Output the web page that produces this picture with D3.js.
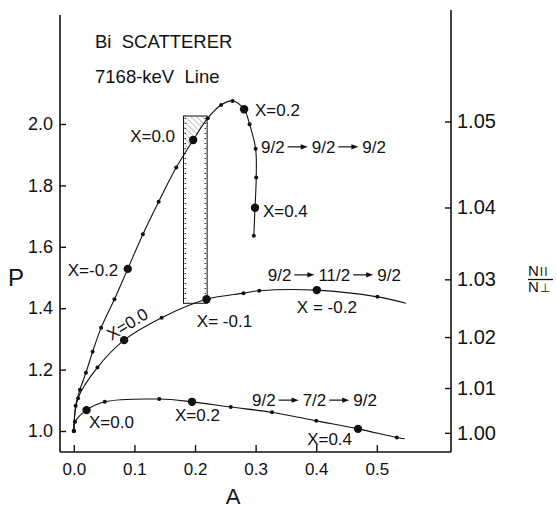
<!DOCTYPE html>
<html lang="en">
<head>
<meta charset="UTF-8">
<title>Bi scatterer, 7168-keV line</title>
<script src="https://cdn.jsdelivr.net/npm/d3@7"></script>
<style>
  body { margin: 0; background: #fff; }
  svg text { font-family: "Liberation Sans", Arial, sans-serif; fill: #111; }
  .curve { fill: none; stroke: #111; stroke-width: 1.1px; }
  .frame { stroke: #111; stroke-width: 1.6px; }
  .tick line { stroke: #111; stroke-width: 1.4px; }
</style>
</head>
<body>
<svg id="chart" width="557" height="510"></svg>
<script>
// 9/2 -> 9/2 -> 9/2 cascade (steep curve)
const steepA = [0.000, 0.003, 0.010, 0.020, 0.031, 0.045, 0.067, 0.089, 0.114, 0.140, 0.169,
                0.197, 0.221, 0.243, 0.262, 0.281, 0.290, 0.300, 0.301, 0.299, 0.297];
const steepP = [1.000, 1.082, 1.134, 1.190, 1.258, 1.336, 1.429, 1.528, 1.641, 1.747, 1.858,
                1.948, 2.019, 2.062, 2.075, 2.048, 1.999, 1.919, 1.826, 1.727, 1.636];
const steepBig = [7, 11, 15, 19];

// 9/2 -> 11/2 -> 9/2 cascade
const middleA = [0.000, 0.007, 0.039, 0.083, 0.145, 0.219, 0.280, 0.306, 0.401, 0.501, 0.548];
const middleP = [1.000, 1.107, 1.207, 1.296, 1.369, 1.429, 1.449, 1.457, 1.459, 1.437, 1.416];
const middleBig = [3, 5, 8];
const middleBare = [10];

// 9/2 -> 7/2 -> 9/2 cascade
const lowerA = [0.000, 0.002, 0.021, 0.051, 0.141, 0.195, 0.259, 0.327, 0.400, 0.469, 0.533, 0.546];
const lowerP = [1.000, 1.030, 1.068, 1.095, 1.104, 1.095, 1.078, 1.061, 1.033, 1.007, 0.979, 0.975];
const lowerBig = [2, 5, 9];
const lowerBare = [11];

// axes
const aTicks = [0.0, 0.1, 0.2, 0.3, 0.4, 0.5];
const pTicks = [1.0, 1.2, 1.4, 1.6, 1.8, 2.0];
const ratioTicks = [1.00, 1.01, 1.02, 1.03, 1.04, 1.05];
const ratioAtP = [0.994, 1.140, 1.306, 1.494, 1.728, 2.008];   // P value facing each ratio tick

// measured window (dotted box)
const boxA = [0.181, 0.220];
const boxP = [1.416, 2.026];

// labels: text, A, P (baseline start), rotation
const pointLabels = [
  ["X=0.0", 0.093, 1.941, 0],
  ["X=0.2", 0.299, 2.026, 0],
  ["X=0.4", 0.312, 1.697, 0],
  ["X=-0.2", -0.010, 1.505, 0],
  ["X=0.0", 0.062, 1.293, -32],
  ["X= -0.1", 0.203, 1.339, 0],
  ["X = -0.2", 0.368, 1.384, 0],
  ["X=0.0", 0.025, 1.010, 0],
  ["X=0.2", 0.167, 1.033, 0],
  ["X=0.4", 0.385, 0.954, 0]
];
const cascades = [
  [["9/2", "9/2", "9/2"], 0.309, 1.906],
  [["9/2", "11/2", "9/2"], 0.320, 1.489],
  [["9/2", "7/2", "9/2"], 0.294, 1.081]
];

const svg = d3.select("#chart");
const x = d3.scaleLinear().domain([-0.0228, 0.6224]).range([60, 451]);
const y = d3.scaleLinear().domain([0.9316, 2.355]).range([452, 15]);
const y2 = d3.scaleLinear().domain(ratioTicks).range(ratioAtP.map(y));

// hatch pattern for the corner of the box
const defs = svg.append("defs");
defs.append("pattern")
  .attr("id", "hatch").attr("patternUnits", "userSpaceOnUse")
  .attr("width", 4).attr("height", 4)
  .attr("patternTransform", "rotate(-45)")
  .append("line").attr("x1", 0).attr("y1", 0).attr("x2", 0).attr("y2", 4)
  .attr("stroke", "#555").attr("stroke-width", 0.7);
defs.append("clipPath").attr("id", "boxclip")
  .append("rect")
  .attr("x", x(boxA[0])).attr("y", y(boxP[1]))
  .attr("width", x(boxA[1]) - x(boxA[0])).attr("height", y(boxP[0]) - y(boxP[1]));

// axes
const gx = svg.append("g").attr("transform", "translate(0,452)")
  .call(d3.axisBottom(x).tickValues(aTicks).tickFormat(d3.format(".1f"))
    .tickSizeInner(-7).tickSizeOuter(0).tickPadding(11));
gx.selectAll("text").style("font-size", "17px");

const gy = svg.append("g").attr("transform", "translate(60,0)")
  .call(d3.axisLeft(y).tickValues(pTicks).tickFormat(d3.format(".1f"))
    .tickSizeInner(-6).tickSizeOuter(0).tickPadding(7));
gy.selectAll("text").style("font-size", "18px");

const gr = svg.append("g").attr("transform", "translate(451,0)")
  .call(d3.axisRight(y2).tickValues(ratioTicks).tickFormat(d3.format(".2f"))
    .tickSizeInner(-6).tickSizeOuter(0).tickPadding(6));
gr.selectAll("text").style("font-size", "20px");

svg.selectAll(".domain").remove();
svg.append("line").attr("class", "frame")
  .attr("x1", 60).attr("x2", 60).attr("y1", y.range()[1]).attr("y2", 452);
svg.append("line").attr("class", "frame")
  .attr("x1", 60).attr("x2", 451).attr("y1", 452).attr("y2", 452);
svg.append("line").attr("class", "frame")
  .attr("x1", 451).attr("x2", 451).attr("y1", y(2.371)).attr("y2", 452);

// the measured window
const steepPts = steepA.map((a, i) => [a, steepP[i]]);
const hatchPoly = [[0.15, 2.2]].concat(steepPts.slice(10, 14));
svg.append("path")
  .attr("d", d3.line().x(d => x(d[0])).y(d => y(d[1]))(hatchPoly) + "Z")
  .attr("fill", "url(#hatch)").attr("clip-path", "url(#boxclip)");
svg.append("rect")
  .attr("x", x(boxA[0])).attr("y", y(boxP[1]))
  .attr("width", x(boxA[1]) - x(boxA[0])).attr("height", y(boxP[0]) - y(boxP[1]))
  .attr("fill", "none").attr("stroke", "#111").attr("stroke-width", 1);
[[boxA[0], 1.8], [boxA[1], -1.8]].forEach(([a, off]) => {
  svg.append("line")
    .attr("x1", x(a) + off).attr("x2", x(a) + off)
    .attr("y1", y(boxP[1]) + 2).attr("y2", y(boxP[0]) - 2)
    .attr("stroke", "#333").attr("stroke-width", 1.6).attr("stroke-dasharray", "1 4");
});

// curves and points
const series = [
  {A: steepA, P: steepP, big: steepBig, bare: []},
  {A: middleA, P: middleP, big: middleBig, bare: middleBare},
  {A: lowerA, P: lowerP, big: lowerBig, bare: lowerBare}
];
const line = d3.line().x(d => x(d[0])).y(d => y(d[1])).curve(d3.curveCatmullRom.alpha(0.5));

series.forEach(s => {
  const pts = s.A.map((a, i) => [a, s.P[i], i]);
  svg.append("path").attr("class", "curve").attr("d", line(pts));
  svg.append("g").selectAll("circle")
    .data(pts.filter(d => !s.bare.includes(d[2])))
    .join("circle")
    .attr("cx", d => x(d[0])).attr("cy", d => y(d[1]))
    .attr("r", d => s.big.includes(d[2]) ? 4.2 : 2)
    .attr("fill", "#111");
});

// labels
svg.append("g").selectAll("text")
  .data(pointLabels)
  .join("text")
  .attr("transform", d => `translate(${x(d[1])},${y(d[2])}) rotate(${d[3]})`)
  .style("font-size", "17px")
  .style("white-space", "pre")
  .text(d => d[0]);

cascades.forEach(([parts, a, p]) => {
  const g = svg.append("g").attr("transform", `translate(${x(a)},${y(p)})`);
  let cx = 0;
  parts.forEach((t, i) => {
    const txt = g.append("text").attr("x", cx).style("font-size", "17px").text(t);
    cx += txt.node().getComputedTextLength() + 3;
    if (i < parts.length - 1) {
      const len = 20, ay = -6;
      g.append("line").attr("x1", cx).attr("x2", cx + len - 4).attr("y1", ay).attr("y2", ay)
        .attr("stroke", "#111").attr("stroke-width", 1.2);
      g.append("path")
        .attr("d", `M${cx + len},${ay} l-7,-2.6 l0,5.2 Z`).attr("fill", "#111");
      cx += len + 4;
    }
  });
});

// titles
svg.append("text").attr("x", x(0.035)).attr("y", 48)
  .style("font-size", "18.5px").style("white-space", "pre").text("Bi  SCATTERER");
svg.append("text").attr("x", x(0.035)).attr("y", 83)
  .style("font-size", "18.5px").style("white-space", "pre").text("7168-keV  Line");

svg.append("text").attr("x", 8).attr("y", 286).style("font-size", "24px").text("P");
svg.append("text").attr("x", 233).attr("y", 504).attr("text-anchor", "middle")
  .style("font-size", "22px").text("A");

const ratio = svg.append("g").attr("transform", "translate(528,0)");
const numer = ratio.append("text").attr("x", 0).attr("y", 276).style("font-size", "15px");
numer.append("tspan").text("N");
numer.append("tspan").style("font-size", "12px").attr("dx", 1).style("letter-spacing", "1px").text("II");
ratio.append("line").attr("x1", 0).attr("x2", 25).attr("y1", 279.5).attr("y2", 279.5)
  .attr("stroke", "#111").attr("stroke-width", 1.3);
const denom = ratio.append("text").attr("x", 0).attr("y", 292).style("font-size", "15px");
denom.append("tspan").text("N");
denom.append("tspan").style("font-size", "12px").attr("dx", 1).text("\u22A5");
</script>
</body>
</html>
